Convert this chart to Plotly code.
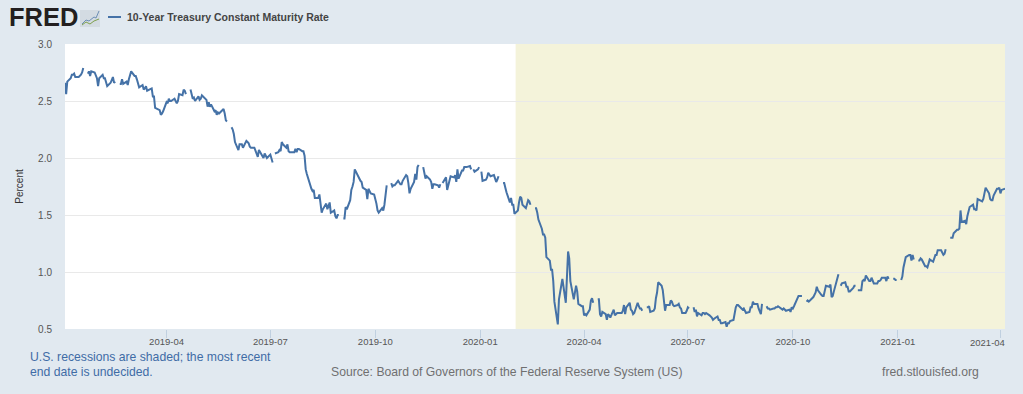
import plotly.graph_objects as go

SERIES_NAME = "10-Year Treasury Constant Maturity Rate"
RECESSION_START = "2020-02-01"
RECESSION_END = "2021-04-05"
X_START = "2019-01-02"
Y_TICKS = [0.5, 1.0, 1.5, 2.0, 2.5, 3.0]
X_TICKS = ["2019-04-01", "2019-07-01", "2019-10-01", "2020-01-01", "2020-04-01",
           "2020-07-01", "2020-10-01", "2021-01-01", "2021-04-01"]
X_TICK_LABELS = ["2019-04", "2019-07", "2019-10", "2020-01", "2020-04",
                 "2020-07", "2020-10", "2021-01", ""]
LAST_TICK_LABEL = "2021-04"

obs_2019 = [
    ("01-02",2.66),("01-03",2.56),("01-04",2.67),("01-07",2.70),("01-08",2.73),("01-09",2.73),("01-10",2.74),
    ("01-11",2.71),("01-14",2.71),("01-15",2.72),("01-16",2.73),("01-17",2.75),("01-18",2.79),("01-21",None),
    ("01-22",2.74),("01-23",2.76),("01-24",2.72),("01-25",2.76),("01-28",2.75),("01-29",2.73),("01-30",2.70),
    ("01-31",2.63),("02-01",2.70),("02-04",2.73),("02-05",2.70),("02-06",2.70),("02-07",2.65),("02-08",2.63),
    ("02-11",2.66),("02-12",2.68),("02-13",2.71),("02-14",2.66),("02-15",2.67),("02-18",None),("02-19",2.65),
    ("02-20",2.65),("02-21",2.69),("02-22",2.65),("02-25",2.67),("02-26",2.64),("02-27",2.69),("02-28",2.73),
    ("03-01",2.76),("03-04",2.72),("03-05",2.72),("03-06",2.69),("03-07",2.64),("03-08",2.62),("03-11",2.64),
    ("03-12",2.60),("03-13",2.61),("03-14",2.63),("03-15",2.59),("03-18",2.60),("03-19",2.61),("03-20",2.54),
    ("03-21",2.54),("03-22",2.44),("03-25",2.43),("03-26",2.42),("03-27",2.38),("03-28",2.39),("03-29",2.41),
    ("04-01",2.49),("04-02",2.48),("04-03",2.52),("04-04",2.50),("04-05",2.50),("04-08",2.52),("04-09",2.50),
    ("04-10",2.48),("04-11",2.50),("04-12",2.56),("04-15",2.55),("04-16",2.60),("04-17",2.59),("04-18",2.56),
    ("04-19",None),("04-22",2.60),("04-23",2.57),("04-24",2.52),("04-25",2.53),("04-26",2.50),("04-29",2.54),
    ("04-30",2.51),("05-01",2.52),("05-02",2.55),("05-03",2.54),("05-06",2.51),("05-07",2.45),("05-08",2.49),
    ("05-09",2.45),("05-10",2.47),("05-13",2.41),("05-14",2.42),("05-15",2.38),("05-16",2.40),("05-17",2.39),
    ("05-20",2.42),("05-21",2.43),("05-22",2.39),("05-23",2.33),("05-24",2.32),("05-27",None),("05-28",2.27),
    ("05-29",2.25),("05-30",2.21),("05-31",2.14),("06-03",2.07),("06-04",2.12),("06-05",2.12),("06-06",2.12),
    ("06-07",2.09),("06-10",2.15),("06-11",2.14),("06-12",2.13),("06-13",2.10),("06-14",2.09),("06-17",2.09),
    ("06-18",2.06),("06-19",2.03),("06-20",2.01),("06-21",2.07),("06-24",2.02),("06-25",2.00),("06-26",2.04),
    ("06-27",2.01),("06-28",2.00),("07-01",2.03),("07-02",1.98),("07-03",1.96),("07-04",None),("07-05",2.04),
    ("07-08",2.05),("07-09",2.07),("07-10",2.06),("07-11",2.14),("07-12",2.12),("07-15",2.09),("07-16",2.12),
    ("07-17",2.06),("07-18",2.05),("07-19",2.05),("07-22",2.05),("07-23",2.08),("07-24",2.05),("07-25",2.08),
    ("07-26",2.08),("07-29",2.06),("07-30",2.06),("07-31",2.02),("08-01",1.90),("08-02",1.86),("08-05",1.75),
    ("08-06",1.73),("08-07",1.71),("08-08",1.72),("08-09",1.65),("08-12",1.65),("08-13",1.68),("08-14",1.59),
    ("08-15",1.52),("08-16",1.55),("08-19",1.60),("08-20",1.55),("08-21",1.59),("08-22",1.61),("08-23",1.52),
    ("08-26",1.54),("08-27",1.49),("08-28",1.47),("08-29",1.50),("08-30",1.50),("09-02",None),("09-03",1.47),
    ("09-04",1.47),("09-05",1.57),("09-06",1.55),("09-09",1.63),("09-10",1.72),("09-11",1.75),("09-12",1.79),
    ("09-13",1.90),("09-16",1.84),("09-17",1.81),("09-18",1.80),("09-19",1.79),("09-20",1.74),("09-23",1.72),
    ("09-24",1.64),("09-25",1.73),("09-26",1.70),("09-27",1.69),("09-30",1.68),("10-01",1.65),("10-02",1.60),
    ("10-03",1.54),("10-04",1.52),("10-07",1.56),("10-08",1.54),("10-09",1.59),("10-10",1.67),("10-11",1.76),
    ("10-14",None),("10-15",1.78),("10-16",1.75),("10-17",1.76),("10-18",1.76),("10-21",1.80),("10-22",1.78),
    ("10-23",1.77),("10-24",1.77),("10-25",1.80),("10-28",1.85),("10-29",1.84),("10-30",1.78),("10-31",1.69),
    ("11-01",1.73),("11-04",1.79),("11-05",1.86),("11-06",1.81),("11-07",1.92),("11-08",1.94),("11-11",None),
    ("11-12",1.92),("11-13",1.88),("11-14",1.82),("11-15",1.84),("11-18",1.81),("11-19",1.79),("11-20",1.73),
    ("11-21",1.77),("11-22",1.77),("11-25",1.76),("11-26",1.74),("11-27",1.77),("11-28",None),("11-29",1.78),
    ("12-02",1.83),("12-03",1.72),("12-04",1.77),("12-05",1.80),("12-06",1.84),("12-09",1.83),("12-10",1.85),
    ("12-11",1.79),("12-12",1.90),("12-13",1.82),("12-16",1.89),("12-17",1.89),("12-18",1.92),("12-19",1.92),
    ("12-20",1.92),("12-23",1.93),("12-24",1.90),("12-25",None),("12-26",1.90),("12-27",1.88),("12-30",1.90),
    ("12-31",1.92),
]
obs_2020 = [
    ("01-01",None),("01-02",1.88),("01-03",1.80),("01-06",1.81),("01-07",1.83),("01-08",1.87),("01-09",1.85),
    ("01-10",1.84),("01-13",1.85),("01-14",1.82),("01-15",1.79),("01-16",1.81),("01-17",1.84),("01-20",None),
    ("01-21",1.78),("01-22",1.78),("01-23",1.74),("01-24",1.70),("01-27",1.61),("01-28",1.65),("01-29",1.59),
    ("01-30",1.59),("01-31",1.51),("02-03",1.54),("02-04",1.61),("02-05",1.66),("02-06",1.65),("02-07",1.59),
    ("02-10",1.56),("02-11",1.59),("02-12",1.63),("02-13",1.62),("02-14",1.59),("02-17",None),("02-18",1.56),
    ("02-19",1.56),("02-20",1.52),("02-21",1.46),("02-24",1.38),("02-25",1.33),("02-26",1.33),("02-27",1.30),
    ("02-28",1.13),("03-02",1.10),("03-03",1.02),("03-04",1.02),("03-05",0.92),("03-06",0.74),("03-09",0.54),
    ("03-10",0.76),("03-11",0.82),("03-12",0.88),("03-13",0.94),("03-16",0.73),("03-17",1.02),("03-18",1.18),
    ("03-19",1.12),("03-20",0.92),("03-23",0.76),("03-24",0.84),("03-25",0.88),("03-26",0.83),("03-27",0.72),
    ("03-30",0.70),("03-31",0.70),("04-01",0.62),("04-02",0.63),("04-03",0.62),("04-06",0.67),("04-07",0.75),
    ("04-08",0.77),("04-09",0.73),("04-10",None),("04-13",0.76),("04-14",0.76),("04-15",0.63),("04-16",0.61),
    ("04-17",0.65),("04-20",0.63),("04-21",0.58),("04-22",0.63),("04-23",0.62),("04-24",0.60),("04-27",0.67),
    ("04-28",0.62),("04-29",0.63),("04-30",0.64),("05-01",0.64),("05-04",0.64),("05-05",0.66),("05-06",0.71),
    ("05-07",0.63),("05-08",0.69),("05-11",0.73),("05-12",0.67),("05-13",0.66),("05-14",0.63),("05-15",0.64),
    ("05-18",0.73),("05-19",0.70),("05-20",0.68),("05-21",0.68),("05-22",0.66),("05-25",None),("05-26",0.69),
    ("05-27",0.69),("05-28",0.70),("05-29",0.65),("06-01",0.66),("06-02",0.68),("06-03",0.77),("06-04",0.82),
    ("06-05",0.91),("06-08",0.88),("06-09",0.84),("06-10",0.75),("06-11",0.66),("06-12",0.71),("06-15",0.71),
    ("06-16",0.75),("06-17",0.74),("06-18",0.71),("06-19",0.70),("06-22",0.71),("06-23",0.72),("06-24",0.69),
    ("06-25",0.68),("06-26",0.64),("06-29",0.64),("06-30",0.66),("07-01",0.69),("07-02",0.68),("07-03",None),
    ("07-06",0.69),("07-07",0.65),("07-08",0.67),("07-09",0.61),("07-10",0.64),("07-13",0.62),("07-14",0.64),
    ("07-15",0.64),("07-16",0.63),("07-17",0.64),("07-20",0.62),("07-21",0.61),("07-22",0.60),("07-23",0.58),
    ("07-24",0.59),("07-27",0.61),("07-28",0.58),("07-29",0.58),("07-30",0.55),("07-31",0.55),("08-03",0.56),
    ("08-04",0.52),("08-05",0.55),("08-06",0.55),("08-07",0.57),("08-10",0.58),("08-11",0.65),("08-12",0.69),
    ("08-13",0.71),("08-14",0.71),("08-17",0.68),("08-18",0.67),("08-19",0.68),("08-20",0.65),("08-21",0.64),
    ("08-24",0.65),("08-25",0.69),("08-26",0.69),("08-27",0.74),("08-28",0.72),("08-31",0.72),("09-01",0.68),
    ("09-02",0.66),("09-03",0.63),("09-04",0.72),("09-07",None),("09-08",0.70),("09-09",0.68),("09-10",0.68),
    ("09-11",0.67),("09-14",0.68),("09-15",0.68),("09-16",0.69),("09-17",0.69),("09-18",0.70),("09-21",0.68),
    ("09-22",0.67),("09-23",0.68),("09-24",0.67),("09-25",0.66),("09-28",0.67),("09-29",0.65),("09-30",0.69),
    ("10-01",0.68),("10-02",0.70),("10-05",0.78),("10-06",0.79),("10-07",0.79),("10-08",0.79),("10-09",0.79),
    ("10-12",None),("10-13",0.74),("10-14",0.75),("10-15",0.74),("10-16",0.75),("10-19",0.78),("10-20",0.80),
    ("10-21",0.82),("10-22",0.87),("10-23",0.84),("10-26",0.80),("10-27",0.79),("10-28",0.79),("10-29",0.85),
    ("10-30",0.88),("11-02",0.87),("11-03",0.89),("11-04",0.78),("11-05",0.79),("11-06",0.83),("11-09",0.96),
    ("11-10",0.98),("11-11",None),("11-12",0.88),("11-13",0.90),("11-16",0.91),("11-17",0.87),("11-18",0.87),
    ("11-19",0.83),("11-20",0.83),("11-23",0.86),("11-24",0.88),("11-25",0.88),("11-26",None),("11-27",0.84),
    ("11-30",0.84),("12-01",0.92),("12-02",0.93),("12-03",0.92),("12-04",0.97),("12-07",0.92),("12-08",0.92),
    ("12-09",0.95),("12-10",0.92),("12-11",0.90),("12-14",0.90),("12-15",0.92),("12-16",0.92),("12-17",0.93),
    ("12-18",0.95),("12-21",0.95),("12-22",0.92),("12-23",0.96),("12-24",0.94),("12-25",None),("12-28",0.94),
    ("12-29",0.94),("12-30",0.93),("12-31",0.93),
]
obs_2021 = [
    ("01-01",None),("01-04",0.93),("01-05",0.96),("01-06",1.04),("01-07",1.08),("01-08",1.13),("01-11",1.15),
    ("01-12",1.15),("01-13",1.10),("01-14",1.15),("01-15",1.11),("01-18",None),("01-19",1.10),("01-20",1.10),
    ("01-21",1.12),("01-22",1.11),("01-25",1.05),("01-26",1.05),("01-27",1.04),("01-28",1.07),("01-29",1.11),
    ("02-01",1.09),("02-02",1.12),("02-03",1.15),("02-04",1.15),("02-05",1.19),("02-08",1.19),("02-09",1.16),
    ("02-10",1.15),("02-11",1.16),("02-12",1.20),("02-15",None),("02-16",1.30),("02-17",1.30),("02-18",1.30),
    ("02-19",1.34),("02-22",1.37),("02-23",1.37),("02-24",1.38),("02-25",1.54),("02-26",1.44),("03-01",1.45),
    ("03-02",1.42),("03-03",1.49),("03-04",1.54),("03-05",1.57),("03-08",1.59),("03-09",1.55),("03-10",1.55),
    ("03-11",1.54),("03-12",1.64),("03-15",1.62),("03-16",1.62),("03-17",1.64),("03-18",1.71),("03-19",1.74),
    ("03-22",1.69),("03-23",1.64),("03-24",1.63),("03-25",1.63),("03-26",1.67),("03-29",1.73),("03-30",1.73),
    ("03-31",1.74),("04-01",1.69),("04-02",1.72),("04-05",1.73),
]

dates = ([f"2019-{d}" for d, _ in obs_2019] + [f"2020-{d}" for d, _ in obs_2020]
         + [f"2021-{d}" for d, _ in obs_2021])
rates = [v for _, v in obs_2019] + [v for _, v in obs_2020] + [v for _, v in obs_2021]

W, H = 1023, 394
L, R, T, B = 65, 18, 44, 65
BG = "#e1e9f0"
BLUE = "#4572a7"
FONT = "Liberation Sans"

def px(x):
    return (x - L) / (W - L - R)

def py(y):
    return 1 - (y - T) / (H - T - B)

def note(text, x, y, size, color, anchor="left", bold=False, family=FONT):
    return dict(text=f"<b>{text}</b>" if bold else text, x=px(x), y=py(y), xref="paper", yref="paper",
                xanchor=anchor, yanchor="middle", showarrow=False, xshift=-1,
                font=dict(family=family, size=size, color=color))

fig = go.Figure(go.Scatter(x=dates, y=rates, mode="lines", name=SERIES_NAME,
                           connectgaps=False, line=dict(color=BLUE, width=2), hoverinfo="x+y"))

shapes = [
    dict(type="rect", xref="x", yref="paper", x0=RECESSION_START, x1=RECESSION_END, y0=0, y1=1,
         fillcolor="#f4f3da", line_width=0, layer="below"),
    # legend key
    dict(type="line", xref="paper", yref="paper", x0=px(108), x1=px(121), y0=py(17), y1=py(17),
         line=dict(color=BLUE, width=2)),
    # logo badge
    dict(type="rect", xref="paper", yref="paper", x0=px(80), x1=px(100), y0=py(27), y1=py(10),
         fillcolor="#d3dbe2", line_width=0),
    dict(type="path", xref="paper", yref="paper",
         path=f"M {px(82)} {py(24)} L {px(86)} {py(20)} L {px(89)} {py(21)} L {px(94)} {py(17)} L {px(96)} {py(18)} L {px(99)} {py(11)}",
         line=dict(color="#6d8fb5", width=1)),
    dict(type="path", xref="paper", yref="paper",
         path=f"M {px(82)} {py(25)} L {px(86)} {py(22)} L {px(90)} {py(24)} L {px(94)} {py(21)} L {px(99)} {py(19)}",
         line=dict(color="#7ea04d", width=1)),
]

annotations = [
    note("FRED", 7.5, 17.5, 25.5, "#231f20", bold=True),
    note(SERIES_NAME, 126, 17, 10.5, "#444444", bold=True),
    note("U.S. recessions are shaded; the most recent", 29, 357, 12.2, "#3f6ca6"),
    note("end date is undecided.", 29, 372, 12.2, "#3f6ca6"),
    note("Source: Board of Governors of the Federal Reserve System (US)", 330, 372, 12.2, "#707070"),
    note("fred.stlouisfed.org", 881, 372, 12.2, "#707070"),
    dict(text=LAST_TICK_LABEL, x="2021-04-01", y=py(342), xref="x", yref="paper", xanchor="center",
         yanchor="middle", xshift=-13, showarrow=False, font=dict(family=FONT, size=9.5, color="#555555")),
]

fig.update_layout(
    width=W, height=H, autosize=False,
    margin=dict(l=L, r=R, t=T, b=B, pad=0),
    paper_bgcolor=BG, plot_bgcolor="#ffffff",
    showlegend=False,
    font=dict(family=FONT, color="#555555"),
    shapes=shapes, annotations=annotations,
)
fig.update_xaxes(
    type="date", range=[X_START, RECESSION_END],
    tickmode="array", tickvals=X_TICKS, ticktext=X_TICK_LABELS,
    ticks="outside", ticklen=8, tickwidth=1, tickcolor="#c0d0e0", ticklabelstandoff=-4,
    tickfont=dict(size=9.5, color="#555555"),
    showgrid=False, zeroline=False, showline=False,
)
fig.update_yaxes(
    range=[0.5, 3.0], tickmode="array", tickvals=Y_TICKS, ticktext=[f"{v:.1f}" for v in Y_TICKS],
    ticks="outside", ticklen=10, tickcolor=BG, tickwidth=0,
    tickfont=dict(size=10, color="#555555"),
    showgrid=True, gridcolor="#e9e9e9", gridwidth=1, zeroline=False, showline=False,
    title=dict(text="Percent", font=dict(size=10, color="#333333"), standoff=12),
)

fig.write_html("out.html", config={"displayModeBar": False},
               post_script="document.body.style.margin='0';document.body.style.background='#e1e9f0';")
